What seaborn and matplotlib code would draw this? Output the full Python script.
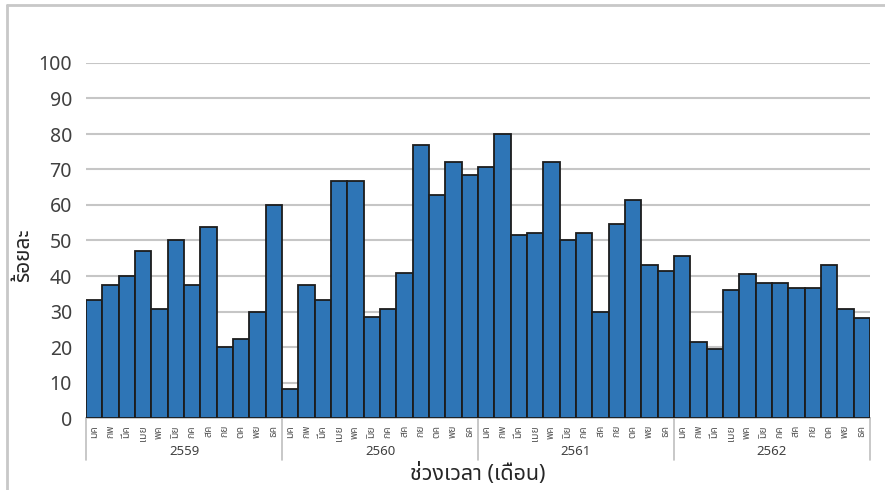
import matplotlib
matplotlib.use("Agg")
import matplotlib.pyplot as plt
from matplotlib.lines import Line2D
import seaborn as sns
import pandas as pd
import numpy as np

years = ["2559", "2560", "2561", "2562"]
months = ["มค", "กพ", "มีค", "เมย", "พค", "มิย", "กค", "สค", "กย", "ตค", "พย", "ธค"]

pct_2559 = [33.3, 37.6, 40.0, 47.0, 30.8, 50.0, 37.6, 53.9, 20.0, 22.3, 30.0, 60.0]
pct_2560 = [8.3, 37.6, 33.3, 66.7, 66.7, 28.5, 30.8, 40.9, 77.0, 62.9, 72.0, 68.5]
pct_2561 = [70.7, 80.0, 51.6, 52.0, 72.2, 50.0, 52.1, 30.0, 54.6, 61.5, 43.2, 41.3]
pct_2562 = [45.7, 21.4, 19.4, 36.0, 40.7, 37.9, 38.0, 36.6, 36.5, 43.2, 30.7, 28.2]

sns.set_theme(style="white")
thai = ["Noto Sans Thai", "Anuphan", "DejaVu Sans"]
plt.rcParams["font.family"] = thai

values = pct_2559 + pct_2560 + pct_2561 + pct_2562
labels = [f"{m}-{y}" for y in years for m in months]
df = pd.DataFrame({"period": labels, "pct": values})

W, H = 885, 490
fig = plt.figure(figsize=(W / 100, H / 100), dpi=100)
ax = fig.add_axes([86 / W, 1 - 418 / H, (870 - 86) / W, (418 - 63) / H])

sns.barplot(data=df, x="period", y="pct", color="#2E75B6", saturation=1,
            width=1.0, edgecolor="#1c1c1c", linewidth=1.3, ax=ax, zorder=3)

n = len(values)
ax.set_xlim(-0.5, n - 0.5)
ax.set_ylim(0, 100)
ax.set_yticks(np.arange(0, 101, 10))
ax.yaxis.grid(True, color="#c6c6c6", linewidth=1.5, zorder=0)
ax.set_axisbelow(True)
for s in ["left", "right", "top"]:
    ax.spines[s].set_visible(False)
ax.spines["bottom"].set_color("#bfbfbf")
ax.spines["bottom"].set_linewidth(1.2)
ax.tick_params(axis="y", length=0, pad=10, labelsize=14, labelcolor="#404040")
for t in ax.get_yticklabels():
    t.set_fontweight("light")

# month labels under each bar, boundary ticks between bars
ax.set_xticks(np.arange(n))
ax.set_xticklabels(months * len(years), rotation=90, fontsize=7.5, color="#595959")
ax.tick_params(axis="x", which="major", length=0, pad=5)
ax.set_xticks(np.arange(n + 1) - 0.5, minor=True)
ax.tick_params(axis="x", which="minor", length=3, color="#bfbfbf", width=1)
ax.set_xlabel("")
ax.set_ylabel("")

# year groups with separators
for i, y in enumerate(years):
    ax.text(i * 12 + 5.5, -0.093, y, transform=ax.get_xaxis_transform(),
            ha="center", va="center", fontsize=9.5, color="#404040")
for b in range(len(years) + 1):
    ax.add_line(Line2D([b * 12 - 0.5] * 2, [0, -0.118], transform=ax.get_xaxis_transform(),
                       color="#bfbfbf", linewidth=1.2, clip_on=False))

fig.text(478 / W, 1 - 474 / H, "ช่วงเวลา (เดือน)", ha="center", va="center",
         fontsize=15.5, color="#262626")
fig.text(24 / W, 1 - 255 / H, "ร้อยละ", ha="center", va="center", rotation=90,
         fontsize=15, color="#262626")

# chart frame
fig.add_artist(Line2D([7 / W, 7 / W], [0, 1 - 5 / H], color="#c8c8c8", linewidth=2))
fig.add_artist(Line2D([7 / W, 1], [1 - 5 / H, 1 - 5 / H], color="#c8c8c8", linewidth=2))

fig.savefig("out.png", dpi=100)
